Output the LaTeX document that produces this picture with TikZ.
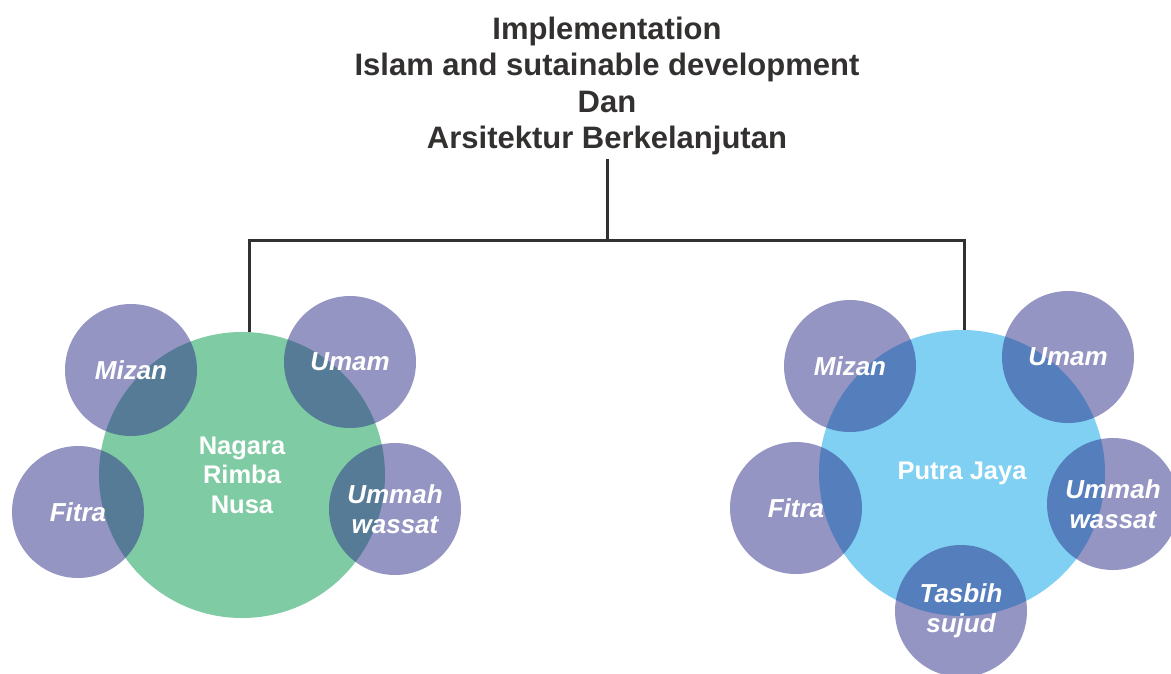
\documentclass[tikz,border=0pt]{standalone}
\usepackage{fontspec}
\setmainfont{Liberation Sans}
\usetikzlibrary{calc}
\definecolor{titlegray}{RGB}{51,48,48}
\definecolor{linegray}{RGB}{51,48,48}
\definecolor{purplebase}{RGB}{45,45,137}
\definecolor{greenfill}{RGB}{127,203,164}
\definecolor{bluefill}{RGB}{127,208,242}
\tikzset{
  bigcircle/.style={circle, minimum size=286pt, inner sep=0pt, text=white,
    font=\bfseries\fontsize{25.5}{29.5}\selectfont, align=center},
  smallcircle/.style={circle, minimum size=132pt, inner sep=0pt,
    fill=purplebase, fill opacity=0.5, text opacity=1, text=white,
    font=\bfseries\itshape\fontsize{26}{30}\selectfont, align=center},
  connector/.style={draw=linegray, line width=3pt, line join=miter}
}
\begin{document}
\begin{tikzpicture}[x=1pt,y=-1pt]
\useasboundingbox (0,0) rectangle (1171,673);
\clip (0,0) rectangle (1171,673);
\fill[white] (0,0) rectangle (1171,673);
% title
\node[anchor=north, inner sep=0pt, align=center, text=titlegray,
  font=\bfseries\fontsize{31}{36.3}\selectfont] (title) at (607,17)
  {Implementation\\Islam and sutainable development\\Dan\\Arsitektur Berkelanjutan};
% main circles
\node[bigcircle, fill=greenfill] (nrn) at (242,475) {Nagara\\Rimba\\Nusa};
\node[bigcircle, fill=bluefill] (pj) at (962,473) {Putra Jaya};
% left satellites
\node[smallcircle] (lmizan) at (131,370) {Mizan};
\node[smallcircle] (lumam) at (350,362) {Umam};
\node[smallcircle] (lfitra) at (78,512) {Fitra};
\node[smallcircle] (lummah) at (395,509) {Ummah\\wassat};
% right satellites
\node[smallcircle] (rmizan) at (850,366) {Mizan};
\node[smallcircle] (rumam) at (1068,357) {Umam};
\node[smallcircle] (rfitra) at (796,508) {Fitra};
\node[smallcircle] (rummah) at (1113,504) {Ummah\\wassat};
\node[smallcircle] (rtasbih) at (961,611) {Tasbih\\sujud};
% connectors
\coordinate (junction) at (607,240);
\draw[connector] ($(title.south)+(0,4)$) -- (junction);
\draw[connector] (nrn.87) -- (nrn.87 |- junction) -- (pj.89 |- junction) -- (pj.89);
\end{tikzpicture}
\end{document}
